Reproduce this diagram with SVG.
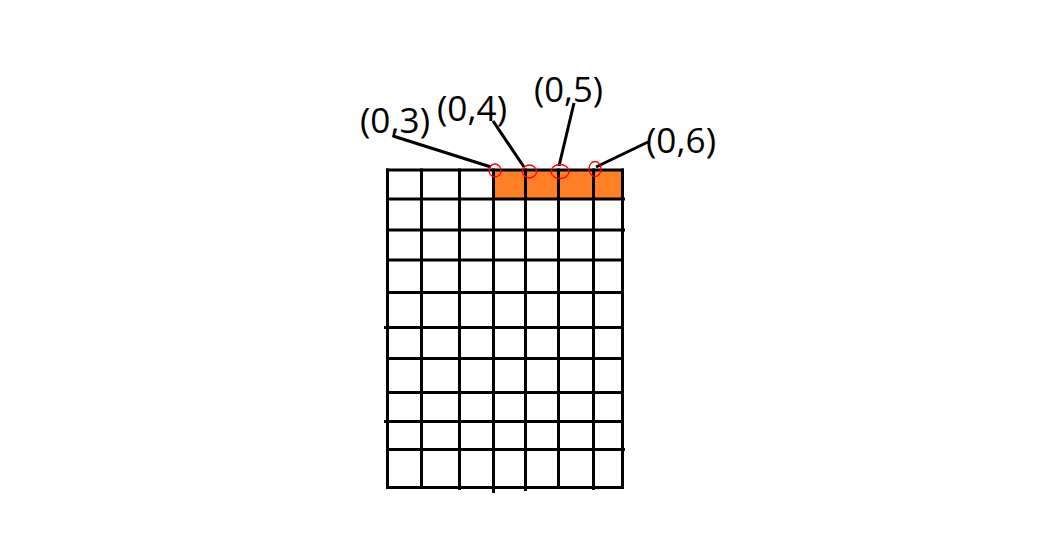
<svg xmlns="http://www.w3.org/2000/svg" width="1041" height="533" viewBox="0 0 1041 533">
<style>
.g{stroke:#000;stroke-width:3;fill:none}
.c{stroke:#000;stroke-width:3}
.m{stroke:#ff0000;stroke-width:1.3;fill:none}
.t{font-family:"Open Sans","Noto Sans",sans-serif;font-size:34px;fill:#000}
</style>
<rect width="1041" height="533" fill="#fff"/>
<g id="grid">
<rect x="493.5" y="170" width="129" height="29" fill="#ff7f27"/>
<g class="g">
<line x1="386" y1="170" x2="624" y2="170"/>
<line x1="386" y1="199" x2="625" y2="199"/>
<line x1="386" y1="230" x2="625" y2="230"/>
<line x1="386" y1="260" x2="624" y2="260"/>
<line x1="386" y1="292.5" x2="624" y2="292.5"/>
<line x1="384" y1="327.5" x2="624" y2="327.5"/>
<line x1="386" y1="358.5" x2="624" y2="358.5"/>
<line x1="386" y1="392.5" x2="624" y2="392.5"/>
<line x1="384" y1="421.5" x2="624" y2="421.5"/>
<line x1="386" y1="449.5" x2="625" y2="449.5"/>
<line x1="386" y1="487.5" x2="624" y2="487.5"/>
<line x1="387.5" y1="168.5" x2="387.5" y2="489"/>
<line x1="421.5" y1="168.5" x2="421.5" y2="489"/>
<line x1="459.5" y1="168.5" x2="459.5" y2="490"/>
<line x1="493.5" y1="168.5" x2="493.5" y2="493"/>
<line x1="525.5" y1="168.5" x2="525.5" y2="491"/>
<line x1="558.5" y1="168.5" x2="558.5" y2="489"/>
<line x1="593.5" y1="168.5" x2="593.5" y2="490"/>
<line x1="622.5" y1="168.5" x2="622.5" y2="489"/>
</g>
</g>
<g id="connectors">
<line class="c" x1="393" y1="136" x2="491" y2="167"/>
<line class="c" x1="493" y1="121" x2="524" y2="167"/>
<line class="c" x1="574" y1="103" x2="559" y2="166"/>
<line class="c" x1="648" y1="142" x2="596" y2="167"/>
</g>
<g id="marks">
<ellipse class="m" cx="495" cy="170.5" rx="6" ry="6.5"/>
<ellipse class="m" cx="529.5" cy="171.5" rx="7" ry="6.5"/>
<ellipse class="m" cx="560" cy="171.5" rx="9" ry="7"/>
<ellipse class="m" cx="595" cy="169" rx="6" ry="7.5"/>
</g>
<g id="label-03"><text class="t" x="360" y="133" textLength="70" lengthAdjust="spacingAndGlyphs">(0,3)</text></g>
<g id="label-04"><text class="t" x="437" y="121" textLength="70" lengthAdjust="spacingAndGlyphs">(0,4)</text></g>
<g id="label-05"><text class="t" x="534" y="102" textLength="69" lengthAdjust="spacingAndGlyphs">(0,5)</text></g>
<g id="label-06"><text class="t" x="646" y="153" textLength="70" lengthAdjust="spacingAndGlyphs">(0,6)</text></g>
</svg>
